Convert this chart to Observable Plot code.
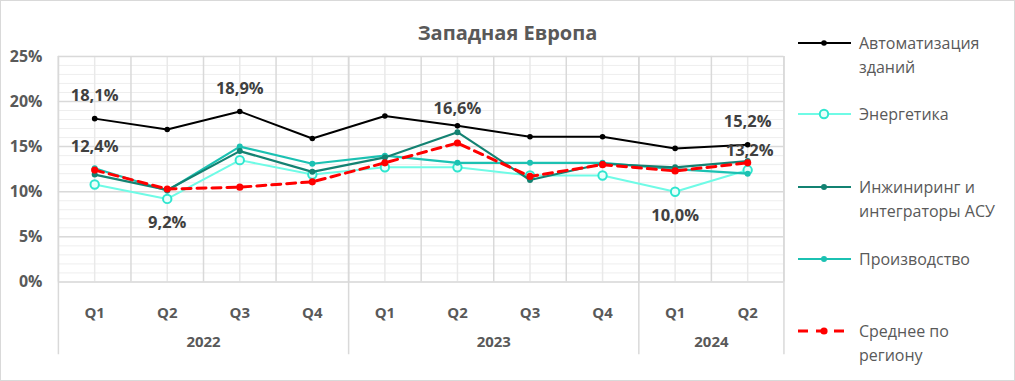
<!DOCTYPE html>
<html>
<head>
<meta charset="utf-8">
<script src="https://cdn.jsdelivr.net/npm/d3@7"></script>
<script src="https://cdn.jsdelivr.net/npm/@observablehq/plot@0.6"></script>
<style>
  html, body { margin: 0; padding: 0; background: #fff; }
  #chart { position: relative; width: 1015px; height: 381px; box-sizing: border-box; border: 1px solid #d9d9d9; overflow: hidden; font-family: "Open Sans", sans-serif; }
  #chart svg.plot { position: absolute; left: -1px; top: -1px; }
  #title { position: absolute; left: 0; width: 1013px; top: 18px; text-align: center; font-size: 20px; font-weight: bold; color: #595959; }
  #legend { position: absolute; left: 796px; top: 0; }
  .item { position: absolute; left: 0; width: 215px; }
  .item svg { position: absolute; left: 0; top: 0; }
  .item span { position: absolute; left: 62px; top: 0; font-size: 16px; line-height: 24px; color: #595959; white-space: nowrap; }
</style>
</head>
<body>
<div id="chart">
  <div id="title">Западная Европа</div>
  <div id="legend"></div>
</div>
<script>
// ---- data ----
const quarters = ["Q1","Q2","Q3","Q4","Q1","Q2","Q3","Q4","Q1","Q2"];
const years    = ["2022","2022","2022","2022","2023","2023","2023","2023","2024","2024"];
const seriesNames = ["Автоматизация зданий","Энергетика","Инжиниринг и интеграторы АСУ","Производство","Среднее по региону"];
const automation  = [18.1, 16.9, 18.9, 15.9, 18.4, 17.3, 16.1, 16.1, 14.8, 15.2];
const energetics  = [10.8, 9.2, 13.5, 11.9, 12.7, 12.7, 11.8, 11.8, 10.0, 12.4];
const engineering = [11.9, 10.2, 14.5, 12.2, 13.8, 16.6, 11.3, 13.1, 12.7, 13.4];
const production  = [12.6, 10.1, 15.0, 13.1, 14.0, 13.2, 13.2, 13.2, 12.5, 12.0];
const average     = [12.4, 10.3, 10.5, 11.1, 13.2, 15.4, 11.7, 13.0, 12.3, 13.2];
const yTicks = [0, 5, 10, 15, 20, 25];
// data labels: series index, point index, placement
const dataLabels = [
  {s: 0, i: 0, pos: "above"}, {s: 0, i: 2, pos: "above"}, {s: 0, i: 9, pos: "above"},
  {s: 1, i: 1, pos: "below"}, {s: 1, i: 8, pos: "below"},
  {s: 2, i: 5, pos: "above"},
  {s: 4, i: 0, pos: "above"}, {s: 4, i: 9, pos: "near"}
];

// ---- styles ----
const seriesValues = [automation, energetics, engineering, production, average];
const styles = [
  {stroke: "#000000", width: 2, dash: null, r: 2.8, fill: "#000000", mstroke: "#000000", msw: 0},
  {stroke: "#6ffbe6", width: 2, dash: null, r: 4.2, fill: "#e8fffb", mstroke: "#2fe6cf", msw: 2},
  {stroke: "#138272", width: 2.2, dash: null, r: 3, fill: "#138272", mstroke: "#138272", msw: 0},
  {stroke: "#1bc1b2", width: 2.2, dash: null, r: 3, fill: "#1bc1b2", mstroke: "#1bc1b2", msw: 0},
  {stroke: "#ff0000", width: 3, dash: "9,6", r: 3.6, fill: "#ff0000", mstroke: "#ff0000", msw: 0}
];
const dyByPos = {above: -23, below: 24, near: -12};

const rows = [];
seriesValues.forEach((vals, s) => vals.forEach((v, i) => rows.push({s, i, v})));
const labelRows = dataLabels.map(d => ({...d, v: seriesValues[d.s][d.i]}));
const fmt = v => v.toFixed(1).replace(".", ",") + "%";

const n = quarters.length;
const centers = d3.range(n);
const boundaries = d3.range(n + 1).map(k => k - 0.5);
const yearBounds = [-0.5, ...d3.range(1, n).filter(k => years[k] !== years[k-1]).map(k => k - 0.5), n - 0.5];
const yearGroups = d3.groups(d3.range(n), i => years[i]).map(([y, idx]) => ({y, x: d3.mean(idx)}));
const minor = d3.range(0, 26, 1);

const marks = [
  Plot.ruleY(minor, {stroke: "#eeeeee", strokeWidth: 1}),
  Plot.ruleX(centers, {stroke: "#e9e9e9", strokeWidth: 1.5}),
  Plot.ruleY(yTicks, {stroke: "#d9d9d9", strokeWidth: 1.5}),
  Plot.ruleX(boundaries, {stroke: "#d9d9d9", strokeWidth: 1.5}),
  Plot.ruleX(yearBounds, {stroke: "#d9d9d9", strokeWidth: 1.5, insetBottom: -73}),
  Plot.axisY({ticks: yTicks, tickSize: 0, tickPadding: 16, tickFormat: d => d + "%", fontSize: 16, fontWeight: "bold", fill: "#595959", label: null}),
  Plot.text(quarters, {x: (d, i) => i, frameAnchor: "bottom", dy: 36, text: d => d, fontSize: 15, fontWeight: "bold", fill: "#595959"}),
  Plot.text(yearGroups, {x: "x", frameAnchor: "bottom", dy: 65, text: "y", fontSize: 15, fontWeight: "bold", fill: "#595959"})
];
[1, 3, 2, 4, 0].forEach(s => {
  const st = styles[s];
  const data = rows.filter(d => d.s === s);
  marks.push(Plot.line(data, {x: "i", y: "v", stroke: st.stroke, strokeWidth: st.width, strokeDasharray: st.dash, curve: "linear"}));
  marks.push(Plot.dot(data, {x: "i", y: "v", r: st.r, fill: st.fill, stroke: st.mstroke, strokeWidth: st.msw}));
});
["above", "below", "near"].forEach(p => {
  marks.push(Plot.text(labelRows.filter(d => d.pos === p), {x: "i", y: "v", dy: dyByPos[p], dx: p === "near" ? 2 : 0, text: d => fmt(d.v), fontSize: 16.5, fontWeight: "bold", fill: "#404040"}));
});

const svg = Plot.plot({
  width: 1015, height: 381,
  marginLeft: 58, marginRight: 230, marginTop: 56, marginBottom: 99,
  style: {fontFamily: "'Open Sans', sans-serif", background: "transparent", overflow: "visible"},
  x: {type: "linear", domain: [-0.5, n - 0.5], axis: null},
  y: {domain: [0, 25], axis: null},
  marks
});
svg.classList.add("plot");
document.getElementById("chart").prepend(svg);

// ---- legend ----
const legendRowsTop = [30, 101, 174, 246, 318];
const legendTexts = [["Автоматизация","зданий"],["Энергетика"],["Инжиниринг и","интеграторы АСУ"],["Производство"],["Среднее по","региону"]];
const legend = document.getElementById("legend");
seriesNames.forEach((name, s) => {
  const st = styles[s];
  const div = document.createElement("div");
  div.className = "item";
  div.style.top = legendRowsTop[s] + "px";
  const ns = "http://www.w3.org/2000/svg";
  const sv = document.createElementNS(ns, "svg");
  sv.setAttribute("width", 56); sv.setAttribute("height", 24);
  const ln = document.createElementNS(ns, "line");
  ln.setAttribute("x1", 1); ln.setAttribute("x2", 54); ln.setAttribute("y1", 12); ln.setAttribute("y2", 12);
  ln.setAttribute("stroke", st.stroke); ln.setAttribute("stroke-width", st.width);
  if (st.dash) ln.setAttribute("stroke-dasharray", "10,8");
  sv.appendChild(ln);
  const c = document.createElementNS(ns, "circle");
  c.setAttribute("cx", 27); c.setAttribute("cy", 12); c.setAttribute("r", st.r);
  c.setAttribute("fill", st.fill); c.setAttribute("stroke", st.mstroke); c.setAttribute("stroke-width", st.msw);
  sv.appendChild(c);
  div.appendChild(sv);
  const sp = document.createElement("span");
  sp.innerHTML = legendTexts[s].join("<br>");
  div.appendChild(sp);
  legend.appendChild(div);
});
</script>
</body>
</html>
